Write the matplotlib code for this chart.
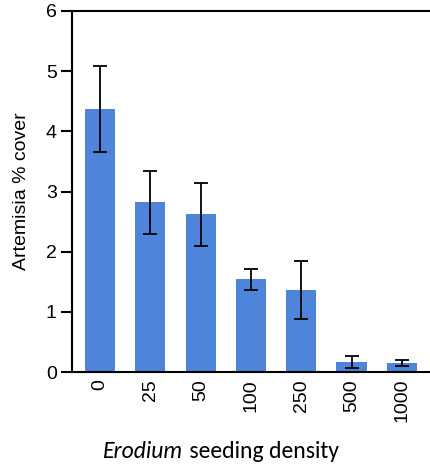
import matplotlib
matplotlib.use("Agg")
import matplotlib.pyplot as plt

# Seeding density treatments and Artemisia cover (mean ± error)
densities = ["0", "25", "50", "100", "250", "500", "1000"]
cover_mean = [4.37, 2.82, 2.62, 1.54, 1.36, 0.17, 0.15]
cover_err = [0.71, 0.52, 0.52, 0.17, 0.48, 0.10, 0.05]
y_ticks = [0, 1, 2, 3, 4, 5, 6]

plt.rcParams["font.family"] = ["Liberation Sans", "DejaVu Sans"]

fig = plt.figure(figsize=(4.30, 4.68), dpi=100)
ax = fig.add_axes([0.1674, 0.2051, 0.8326, 0.7714])

x = list(range(len(densities)))
ax.bar(x, cover_mean, width=0.6, color="#4E84DA", zorder=2)
ax.errorbar(x, cover_mean, yerr=cover_err, fmt="none", ecolor="black",
            elinewidth=1.3, capsize=4.7, capthick=1.3, zorder=3)

ax.set_xlim(-0.557, 6.56)
ax.set_ylim(0, 6)
ax.set_yticks(y_ticks)
ax.set_xticks(x)
ax.set_xticklabels(densities, rotation=90, fontsize=14)
ax.tick_params(axis="x", length=0, pad=5)
ax.tick_params(axis="y", length=8, width=1.5, pad=3, labelsize=14)

for side in ("left", "top", "bottom"):
    ax.spines[side].set_linewidth(1.5)
ax.spines["right"].set_visible(False)

ax.set_ylabel("Artemisia % cover", fontsize=14, labelpad=11)

# x-axis title with italic genus name, centred as one line
lab_y = 1 - 452 / 468
t1 = fig.text(0, lab_y, "Erodium", fontsize=17, style="italic",
              family=["Carlito", "DejaVu Sans"], va="center", ha="left")
t2 = fig.text(0, lab_y, " seeding density", fontsize=17,
              family=["Carlito", "DejaVu Sans"], va="center", ha="left")
fig.canvas.draw()
r = fig.canvas.get_renderer()
w1 = t1.get_window_extent(r).width
w2 = t2.get_window_extent(r).width
figw = fig.bbox.width
start = 221 - (w1 + w2) / 2
t1.set_x(start / figw)
t2.set_x((start + w1) / figw)

fig.savefig("out.png", dpi=100)
